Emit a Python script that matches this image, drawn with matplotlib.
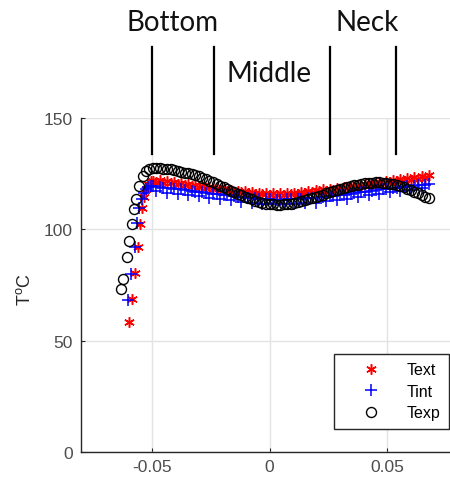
import matplotlib
matplotlib.use("Agg")
import matplotlib.pyplot as plt

plt.rcParams['font.family'] = ['Liberation Sans', 'DejaVu Sans']
plt.rcParams['mathtext.fontset'] = 'custom'
plt.rcParams['mathtext.rm'] = 'Liberation Sans'
plt.rcParams['mathtext.it'] = 'Liberation Sans'

# ---- data ----
# common x positions of the flat part (bottle wall, bottom -> neck)
x_wall = [-0.0495, -0.048, -0.0465, -0.045, -0.0435, -0.042, -0.0405, -0.039, -0.0375, -0.036,
          -0.0345, -0.033, -0.0315, -0.030, -0.0285, -0.027, -0.0255, -0.024, -0.0225, -0.021,
          -0.0195, -0.018, -0.0165, -0.015, -0.0135, -0.012, -0.0105, -0.009, -0.0075, -0.006,
          -0.0045, -0.003, -0.0015, 0.0, 0.0015, 0.003, 0.0045, 0.006, 0.0075, 0.009,
          0.0105, 0.012, 0.0135, 0.015, 0.0165, 0.018, 0.0195, 0.021, 0.0225, 0.024,
          0.0255, 0.027, 0.0285, 0.030, 0.0315, 0.033, 0.0345, 0.036, 0.0375, 0.039,
          0.0405, 0.042, 0.0435, 0.045, 0.0465, 0.048, 0.0495, 0.051, 0.0525, 0.054,
          0.0555, 0.057, 0.0585, 0.060, 0.0615, 0.063, 0.0645, 0.066, 0.0675]

# Text (simulated, external)
x_text_base = [-0.0596, -0.0582, -0.0569, -0.0558, -0.0548, -0.0540, -0.0532, -0.0524, -0.0515, -0.0505]
t_text_base = [58.2, 68.7, 80.3, 91.9, 102.5, 109.5, 114.5, 118.0, 120.3, 121.5]
t_text_wall = [121.9, 121.4, 122.0, 121.0, 121.5, 120.6, 121.1, 120.2, 120.7, 119.8,
               120.3, 119.4, 119.9, 119.0, 119.4, 118.6, 119.0, 118.2, 118.6, 117.7,
               118.2, 117.4, 117.8, 116.9, 117.4, 116.6, 117.0, 116.2, 116.7, 115.9,
               116.5, 115.7, 116.3, 115.6, 116.2, 115.5, 116.2, 115.6, 116.3, 115.8,
               116.5, 115.9, 116.8, 116.2, 117.1, 116.6, 117.5, 117.0, 117.9, 117.4,
               118.3, 117.8, 118.7, 118.2, 119.0, 118.6, 119.4, 119.0, 119.8, 119.4,
               120.3, 119.9, 120.7, 120.3, 121.1, 120.7, 121.6, 121.1, 122.0, 121.5,
               122.5, 121.9, 123.0, 122.3, 123.4, 122.8, 123.9, 123.2, 124.2]

# Tint (simulated, internal)
x_tint_base = [-0.0600, -0.0586, -0.0573, -0.0562, -0.0552, -0.0543, -0.0534, -0.0525, -0.0515, -0.0505]
t_tint_base = [68.3, 80.0, 91.9, 103.0, 109.5, 113.8, 116.5, 118.3, 119.2, 119.5]
t_tint_wall = [119.4, 117.2, 119.0, 118.6, 116.5, 118.5, 118.1, 116.0, 117.9, 117.6,
               115.4, 117.3, 116.9, 114.8, 116.6, 116.3, 114.2, 116.0, 115.7, 113.6,
               115.4, 115.2, 113.0, 114.9, 114.7, 112.5, 114.3, 114.1, 112.0, 113.9,
               113.8, 111.6, 113.5, 113.4, 111.3, 113.3, 113.3, 111.2, 113.4, 113.5,
               111.4, 113.6, 113.7, 111.7, 113.9, 114.1, 112.0, 114.3, 114.5, 112.6,
               114.9, 115.1, 113.2, 115.4, 115.6, 113.8, 116.0, 116.2, 114.5, 116.7,
               116.9, 115.2, 117.3, 117.5, 115.9, 117.9, 118.1, 116.6, 118.5, 118.7,
               117.2, 119.1, 119.3, 117.8, 119.6, 119.8, 118.4, 120.0, 120.2]

# Texp (measured)
x_exp_base = [-0.0631, -0.0622, -0.0606, -0.0596, -0.0585, -0.0575, -0.0565, -0.0554, -0.0539, -0.0525, -0.0512]
t_exp_base = [73.2, 77.7, 87.7, 94.9, 102.4, 109.1, 113.6, 119.6, 124.1, 126.2, 127.2]
t_exp_wall = [127.5, 127.6, 127.5, 127.3, 127.1, 126.9, 126.6, 126.3, 125.9, 125.5,
              125.1, 124.7, 124.3, 123.8, 123.2, 122.5, 121.8, 121.1, 120.3, 119.6,
              118.8, 118.1, 117.3, 116.6, 115.9, 115.2, 114.5, 113.9, 113.4, 112.8,
              112.3, 111.9, 111.6, 111.3, 111.2, 111.1, 111.1, 111.2, 111.4, 111.6,
              111.9, 112.3, 112.7, 113.1, 113.6, 114.1, 114.6, 115.1, 115.6, 116.1,
              116.6, 117.1, 117.6, 118.0, 118.5, 118.9, 119.3, 119.7, 120.0, 120.3,
              120.6, 120.8, 121.0, 121.1, 121.1, 121.0, 120.8, 120.5, 120.2, 119.8,
              119.3, 118.8, 118.2, 117.6, 116.9, 116.2, 115.5, 114.7, 113.9]

# zone labels and separators above the plot
zone_names = ['Bottom', 'Middle', 'Neck']
zone_label_x = [-0.041, 0.0, 0.0414]
zone_label_y = [193.0, 170.0, 193.0]
zone_edges = [-0.05, -0.0236, 0.0257, 0.0537]

x_ticks = [-0.05, 0, 0.05]
x_tick_labels = ['-0.05', '0', '0.05']
y_ticks = [0, 50, 100, 150]

fig = plt.figure(figsize=(4.5, 4.81), dpi=100)
ax = fig.add_axes([0.18, 0.0582, 0.838, 0.6944])

ax.plot(x_text_base + x_wall, t_text_base + t_text_wall, linestyle='none',
        marker=(6, 2, 0), ms=7.5, mew=1.1, color='red', label='Text')
ax.plot(x_tint_base + x_wall, t_tint_base + t_tint_wall, linestyle='none',
        marker='+', ms=8, mew=1.1, color='blue', label='Tint')
ax.plot(x_exp_base + x_wall, t_exp_base + t_exp_wall, linestyle='none',
        marker='o', ms=7.2, mew=1.0, mfc='none', color='black', label='Texp')

ax.set_xlim(-0.08, 0.08)
ax.set_ylim(0, 150)
ax.set_xticks(x_ticks)
ax.set_xticklabels(x_tick_labels)
ax.set_yticks(y_ticks)
ax.grid(True, color='#e3e3e3', lw=1)
ax.set_axisbelow(True)
ax.tick_params(direction='in', length=3, colors='#262626', labelcolor='#4d4d4d', labelsize=12.5)
ax.tick_params(axis='y', pad=6)
ax.tick_params(axis='x', pad=5)
for s in ['top', 'right']:
    ax.spines[s].set_visible(False)
for s in ['left', 'bottom']:
    ax.spines[s].set_color('#262626')
    ax.spines[s].set_linewidth(1.0)

ax.set_ylabel('T$^{\\mathrm{o}}$C', fontsize=13, color='#262626')
ax.yaxis.set_label_coords(-0.125, 0.49)

# separators and zone names
for xe in zone_edges:
    ax.plot([xe, xe], [134, 182], color='black', lw=1.6, clip_on=False)
for name, xl, yl in zip(zone_names, zone_label_x, zone_label_y):
    ax.text(xl, yl, name, ha='center', va='center', fontsize=20,
            family=['Lato', 'DejaVu Sans'], color='#111111', clip_on=False)

leg = ax.legend(loc='lower right', bbox_to_anchor=(449 / 450, (481 - 430) / 481),
                bbox_transform=fig.transFigure, borderaxespad=0, numpoints=1,
                fontsize=11.5, handlelength=3.5, handletextpad=0.5, borderpad=0.55,
                labelspacing=0.4, fancybox=False, framealpha=1, edgecolor='#262626')
leg.get_frame().set_linewidth(1.0)

fig.savefig('out.png', dpi=100)
